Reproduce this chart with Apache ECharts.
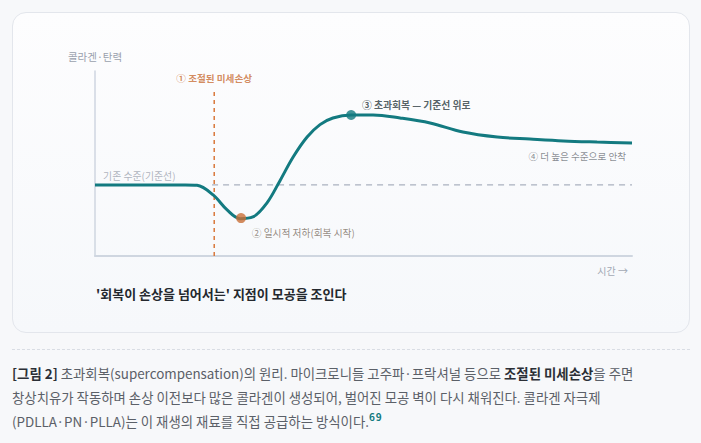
<!DOCTYPE html>
<html><head><meta charset="utf-8">
<script src="https://cdn.jsdelivr.net/npm/echarts@6/dist/echarts.min.js"></script>
<style>
html,body{margin:0;padding:0;width:701px;height:443px;overflow:hidden;background:#f7f8fa;font-family:"Noto Sans CJK KR","Noto Sans",sans-serif;}
#card{position:absolute;left:12px;top:12px;width:678px;height:321px;border:1px solid #e3e6ec;border-radius:14px;background:linear-gradient(#fdfdfe,#f6f8fb);box-sizing:border-box;}
#chart{position:absolute;left:0;top:0;width:701px;height:443px;}
#sep{position:absolute;left:12px;top:349px;width:678px;border-top:1px dashed #d9dde4;}
#cap{position:absolute;left:12px;top:361px;width:690px;font-size:13.4px;line-height:24px;color:#5b6068;white-space:nowrap;}
#cap b{color:#2b2f36;font-weight:700;}
#cap sup{color:#137a80;font-weight:700;font-size:10px;vertical-align:6px;line-height:0;letter-spacing:1px;}
</style></head>
<body>
<div id="card"></div>
<div id="sep"></div>
<div id="cap">
<div><b>[그림 2]</b> 초과회복(supercompensation)의 원리. 마이크로니들 고주파·프락셔널 등으로 <b>조절된 미세손상</b>을 주면</div>
<div>창상치유가 작동하며 손상 이전보다 많은 콜라겐이 생성되어, 벌어진 모공 벽이 다시 채워진다. 콜라겐 자극제</div>
<div>(PDLLA·PN·PLLA)는 이 재생의 재료를 직접 공급하는 방식이다.<sup>69</sup></div>
</div>
<div id="chart"></div>
<script>
// time (0-100) and collagen level (arbitrary units)
const curveX = [0, 16.8, 19, 22, 24.6, 27, 29.4, 32, 34.5, 36.9, 39.5, 41.9, 44.3, 47.7, 51.8, 56.8, 62.4, 68.5, 74.9, 81, 87.2, 93.5, 100];
const curveY = [38.4, 38.4, 38.2, 33, 24.9, 20.2, 21.1, 28.6, 41, 53.5, 64.3, 71, 74.6, 76.2, 76.2, 74.6, 71.9, 67, 64.3, 63.2, 62.2, 61.6, 61.1];
const baselineLevel = 38.4;
const baselineStart = 21.8;
const damageTime = 22.2;
const damageTop = 90.8;
const dipPoint = [27.2, 20.5];
const peakPoint = [47.7, 76.2];
const annoText = ['① 조절된 미세손상', '③ 초과회복 — 기준선 위로', '④ 더 높은 수준으로 안착', '기존 수준(기준선)', '② 일시적 저하(회복 시작)'];
const annoX = [22.2, 49.7, 98.9, 1.5, 29.2];
const annoY = [96.2, 81.6, 54, 43.2, 12.4];
const yName = '콜라겐·탄력';
const xName = '시간 →';
const titleText = "'회복이 손상을 넘어서는' 지점이 모공을 조인다";

const annoStyles = [
  {color:'#c96f37', fontWeight:'bold', fontSize:9.6, align:'center'},
  {color:'#2c3a40', fontWeight:'bold', fontSize:9.8, align:'left'},
  {color:'#6b6f76', fontSize:9.6, align:'right'},
  {color:'#9aa1ad', fontSize:9.9, align:'left'},
  {color:'#7b6e63', fontSize:9.7, align:'left'}
];

const chart = echarts.init(document.getElementById('chart'), null, {renderer:'svg'});
const FONT = '"Noto Sans CJK KR","Noto Sans",sans-serif';
chart.setOption({
  animation:false,
  textStyle:{fontFamily:FONT},
  grid:{left:95, right:69, top:71, bottom:187},
  xAxis:{type:'value', min:0, max:100,
    name:xName, nameLocation:'end', nameGap:0,
    nameTextStyle:{color:'#a3a9b4', fontSize:10, align:'right', verticalAlign:'top', padding:[10,4,0,0], fontFamily:FONT},
    axisLine:{show:true, lineStyle:{color:'#cfd6e0', width:2}},
    axisTick:{show:false}, axisLabel:{show:false}, splitLine:{show:false}},
  yAxis:{type:'value', min:0, max:100,
    name:yName, nameLocation:'end', nameGap:9,
    nameTextStyle:{color:'#9aa1ad', fontSize:10.5, align:'center', fontFamily:FONT},
    axisLine:{show:true, lineStyle:{color:'#cfd6e0', width:1.5}},
    axisTick:{show:false}, axisLabel:{show:false}, splitLine:{show:false}},
  graphic:[{type:'text', left:96, top:287, style:{text:titleText, fill:'#24282e', font:'bold 13px '+FONT}}],
  series:[
    {type:'line', data:[[baselineStart, baselineLevel],[100, baselineLevel]], symbol:'none',
      lineStyle:{color:'#aab1bf', width:1.3, type:[6,5]}, z:1},
    {type:'line', data:[[damageTime, 0],[damageTime, damageTop]], symbol:'none',
      lineStyle:{color:'#d9773a', width:1.5, type:[4,4]}, z:1},
    {type:'line', data:curveX.map((x,i)=>[x, curveY[i]]), smooth:0.35, symbol:'none',
      lineStyle:{color:'#137a80', width:3}, z:3},
    {type:'scatter', data:[{value:dipPoint, itemStyle:{color:'#c96f37'}},{value:peakPoint, itemStyle:{color:'#137a80'}}],
      symbolSize:10, z:4},
    {type:'scatter', symbolSize:0, z:5, silent:true,
      data:annoText.map((t,i)=>({value:[annoX[i], annoY[i]],
        label:Object.assign({show:true, position:'inside', formatter:t, verticalAlign:'middle', fontFamily:FONT}, annoStyles[i])}))}
  ]
});
</script>
</body></html>
